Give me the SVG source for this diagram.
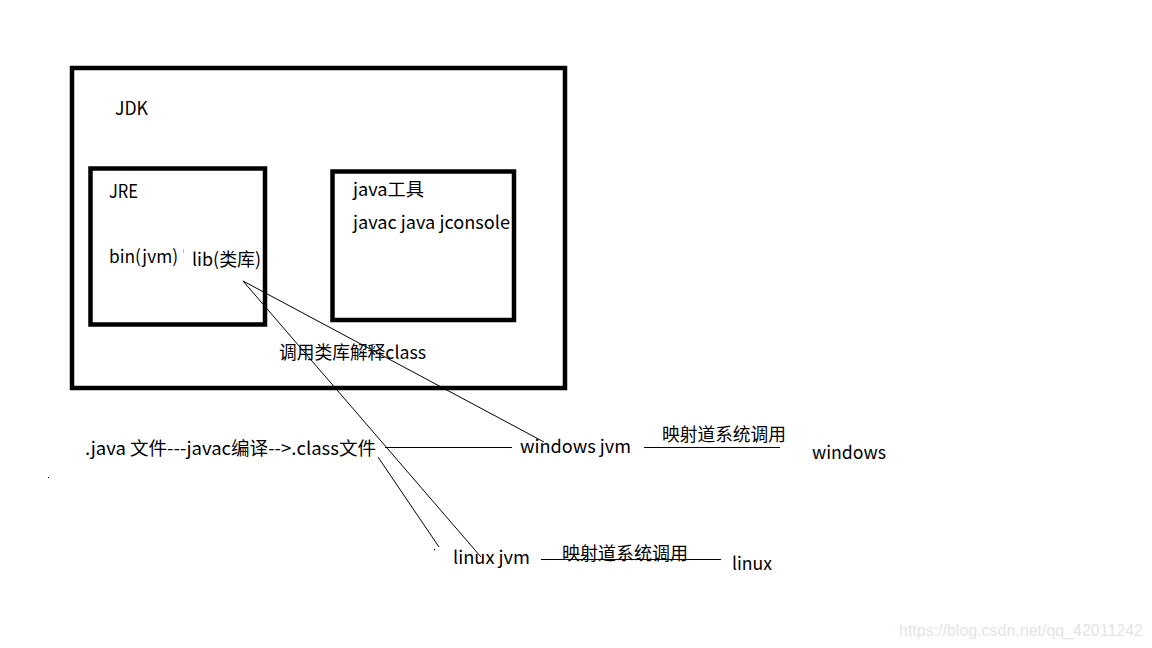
<svg xmlns="http://www.w3.org/2000/svg" width="1152" height="648" viewBox="0 0 1152 648">
<style>
.box{fill:none;stroke:#000;stroke-width:4.5}
.t{font-family:"Noto Sans CJK SC","Noto Sans","Liberation Sans",sans-serif;font-size:18px;fill:#000}
.ln{stroke:#000;stroke-width:1;fill:none}
.wm{font-family:"Liberation Sans",Arial,sans-serif;font-size:16px;fill:#e4e4e4}
</style>
<rect width="1152" height="648" fill="#fff"/>
<g id="jdk">
<rect class="box" x="72" y="68" width="493" height="320"/>
<text class="t" x="115" y="115" textLength="33" lengthAdjust="spacingAndGlyphs">JDK</text>
</g>
<g id="jre">
<rect class="box" x="90.5" y="168.5" width="174.5" height="156"/>
<text class="t" x="109" y="198" textLength="29" lengthAdjust="spacingAndGlyphs">JRE</text>
<text class="t" x="109" y="263" textLength="69" lengthAdjust="spacingAndGlyphs">bin(jvm)</text>
<text class="t" x="192" y="266" textLength="69" lengthAdjust="spacingAndGlyphs">lib(类库)</text>
<line x1="183.5" y1="249" x2="183.5" y2="253" stroke="#f0b080" stroke-width="1"/>
</g>
<g id="tools">
<rect class="box" x="332.5" y="171.5" width="181.5" height="148.5"/>
<text class="t" x="353" y="196" textLength="71" lengthAdjust="spacingAndGlyphs">java工具</text>
<text class="t" x="353" y="229" textLength="157" lengthAdjust="spacingAndGlyphs">javac java jconsole</text>
</g>
<g id="label-class">
<text class="t" x="279" y="359" textLength="147" lengthAdjust="spacingAndGlyphs">调用类库解释class</text>
</g>
<g id="source">
<text class="t" x="85" y="455" textLength="291" lengthAdjust="spacingAndGlyphs">.java 文件---javac编译--&gt;.class文件</text>
<rect x="48" y="477" width="1" height="1" fill="#000"/>
</g>
<g id="winjvm">
<text class="t" x="520" y="453" textLength="111" lengthAdjust="spacingAndGlyphs">windows jvm</text>
</g>
<g id="winmap">
<text class="t" x="662" y="441" textLength="124" lengthAdjust="spacingAndGlyphs">映射道系统调用</text>
</g>
<g id="windows">
<text class="t" x="812" y="459" textLength="74" lengthAdjust="spacingAndGlyphs">windows</text>
</g>
<g id="linuxjvm">
<text class="t" x="453" y="564" textLength="77" lengthAdjust="spacingAndGlyphs">linux jvm</text>
</g>
<g id="linuxmap">
<text class="t" x="562" y="560" textLength="126" lengthAdjust="spacingAndGlyphs">映射道系统调用</text>
</g>
<g id="linux">
<text class="t" x="732" y="570" textLength="40" lengthAdjust="spacingAndGlyphs">linux</text>
</g>
<g id="connectors">
<line class="ln" x1="243" y1="281" x2="544" y2="442"/>
<line class="ln" x1="243" y1="281" x2="481" y2="557"/>
<line class="ln" x1="378" y1="457" x2="439" y2="547"/>
<rect x="434" y="549" width="1.2" height="1.2" fill="#000"/>
<line class="ln" x1="385" y1="447.5" x2="512" y2="447.5"/>
<line class="ln" x1="644" y1="447.5" x2="780" y2="447.5"/>
<line class="ln" x1="541" y1="559.5" x2="721" y2="559.5"/>
</g>
<text class="wm" x="899" y="636" textLength="244" lengthAdjust="spacingAndGlyphs">https://blog.csdn.net/qq_42011242</text>
</svg>
